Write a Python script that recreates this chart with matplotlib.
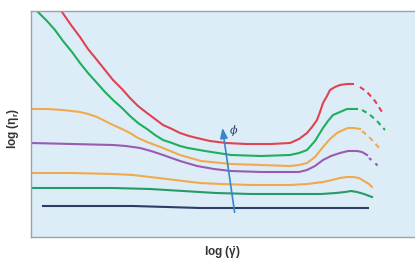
import matplotlib
matplotlib.use("Agg")
import matplotlib.pyplot as plt

plt.rcParams['mathtext.fontset'] = 'custom'
plt.rcParams['mathtext.rm'] = 'Liberation Sans:bold'
plt.rcParams['mathtext.it'] = 'Liberation Sans:bold'
plt.rcParams['mathtext.bf'] = 'Liberation Sans:bold'

# Arbitrary units: x = log(shear rate), y = log(relative viscosity)
red_x = [31, 40, 49, 57, 66, 74, 82, 91, 99, 107, 116, 124, 132, 141, 149, 158, 166, 179, 195, 215, 240, 259,
         268, 276, 281, 286, 289, 292, 296, 299, 304, 309, 316, 322]
red_y = [225, 212, 200, 188, 177, 167, 157, 148, 139, 131, 124, 118, 112, 108, 104, 101, 99, 96, 94, 93, 93, 94,
         98, 104, 110, 117, 125, 134, 141, 147, 150, 152, 153, 153]
red_dash_x = [329, 336, 344, 351]
red_dash_y = [150, 145, 136, 125]

grn_x = [7, 16, 24, 32, 41, 49, 57, 66, 74, 82, 91, 99, 107, 116, 124, 132, 141, 149, 157, 174, 200, 230, 259,
         268, 276, 284, 292, 297, 302, 309, 316, 322, 326]
grn_y = [225, 216, 207, 196, 185, 174, 164, 154, 145, 137, 129, 121, 114, 108, 102, 97, 94, 91, 89, 86, 82, 81, 82,
         84, 87, 96, 109, 116, 122, 125, 128, 128, 128]
grn_dash_x = [331, 338, 346, 354]
grn_dash_y = [127, 123, 116, 107]

or1_x = [0, 16, 32, 49, 57, 66, 74, 82, 91, 99, 107, 116, 124, 132, 149, 170, 200, 230, 259, 268, 276, 284,
         292, 299, 306, 312, 317, 323, 329]
or1_y = [128, 128, 127, 125, 123, 120, 116, 112, 108, 104, 99, 95, 92, 89, 82, 76, 73, 72, 71, 72, 74, 80,
         90, 98, 104, 107, 109, 109, 108]
or1_dash_x = [331, 337, 343, 349]
or1_dash_y = [106, 101, 95, 88]

pur_x = [0, 41, 82, 95, 109, 120, 132, 149, 166, 183, 200, 230, 259, 268, 276, 284, 292, 300, 309, 317, 326, 331, 336]
pur_y = [94, 93, 92, 91, 89, 86, 82, 76, 71, 68, 66, 65, 65, 65, 67, 71, 77, 81, 84, 86, 86, 85, 82]
pur_dash_x = [338, 343, 348]
pur_dash_y = [79, 75, 70]

or2_x = [0, 41, 82, 102, 119, 136, 152, 169, 190, 220, 259, 276, 292, 301, 309, 316, 322, 328, 333, 338, 341]
or2_y = [64, 64, 63, 62, 60, 58, 56, 54, 53, 52, 52, 53, 55, 57, 59, 60, 60, 59, 56, 53, 50]

gr2_x = [0, 41, 82, 119, 152, 185, 220, 259, 290, 305, 314, 320, 326, 333, 341]
gr2_y = [49, 49, 49, 48, 46, 44, 43, 43, 43, 44, 45, 46, 45, 43, 40]

nav_x = [12, 52, 102, 136, 169, 202, 236, 269, 302, 337]
nav_y = [31, 31, 31, 30, 29, 29, 29, 29, 29, 29]

arrow_start = (204, 22)
arrow_end = (191, 112)
phi_pos = (199, 107)

fig = plt.figure(figsize=(4.15, 2.65), dpi=100)
ax = fig.add_axes([31/415, 28/265, 386/415, 226/265])
ax.set_facecolor('#dcedf8')
ax.set_xlim(0, 386)
ax.set_ylim(0, 226)

lw = 1.5
dash = (0, (2.5, 2))
ax.plot(red_x, red_y, color='#e0424f', lw=lw)
ax.plot(red_dash_x, red_dash_y, color='#e0424f', lw=lw, ls=dash)
ax.plot(grn_x, grn_y, color='#1fae5c', lw=lw)
ax.plot(grn_dash_x, grn_dash_y, color='#1fae5c', lw=lw, ls=dash)
ax.plot(or1_x, or1_y, color='#f2a94e', lw=lw)
ax.plot(or1_dash_x, or1_dash_y, color='#f2a94e', lw=lw, ls=dash)
ax.plot(pur_x, pur_y, color='#9a5ab4', lw=lw)
ax.plot(pur_dash_x, pur_dash_y, color='#9a5ab4', lw=lw, ls=(0, (1.5, 2.5)))
ax.plot(or2_x, or2_y, color='#f2a94e', lw=lw)
ax.plot(gr2_x, gr2_y, color='#279a68', lw=lw)
ax.plot(nav_x, nav_y, color='#2c3e66', lw=lw)

ax.annotate('', xy=arrow_end, xytext=arrow_start,
            arrowprops=dict(arrowstyle='-|>,head_length=0.6,head_width=0.22',
                            color='#3a86c8', lw=1.2))
ax.text(phi_pos[0], phi_pos[1], '\u03d5', fontsize=8, color='#2a3f66',
        ha='left', va='center', family='DejaVu Serif', style='italic')

ax.set_xticks([])
ax.set_yticks([])
for s in ['left', 'bottom', 'top']:
    ax.spines[s].set_color('#9aa3ad')
    ax.spines[s].set_linewidth(1.0)
ax.spines['right'].set_visible(False)

fig.text(222/415, 1 - 253/265, r'log ($\dot{\mathrm{\gamma}}$)', ha='center', va='center',
         fontsize=8.5, fontweight='bold', family='Liberation Sans', color='#333333')
fig.text(13/415, 1 - 128/265, r'log ($\mathrm{\eta_r}$)', ha='center', va='center',
         rotation=90, fontsize=8.5, fontweight='bold', family='Liberation Sans', color='#333333')

fig.savefig('out.png', dpi=100)
